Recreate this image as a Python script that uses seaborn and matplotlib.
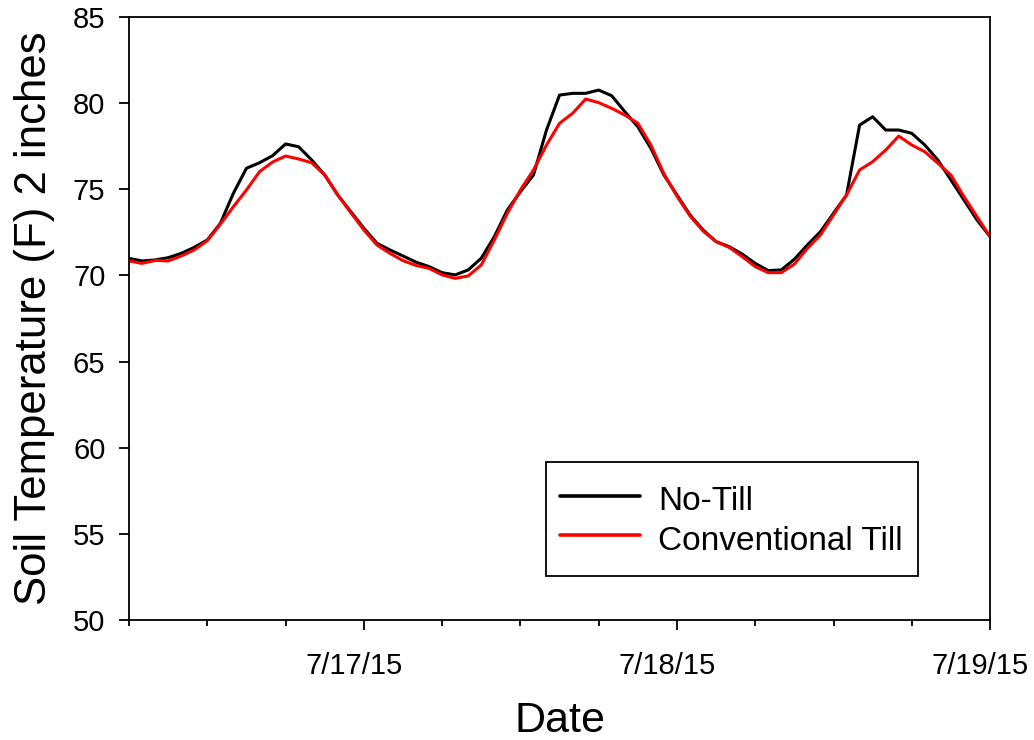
import matplotlib
matplotlib.use("Agg")
import matplotlib.pyplot as plt
import matplotlib.dates as mdates
import matplotlib.transforms as mtransforms
from matplotlib.patches import Rectangle
from matplotlib.ticker import FuncFormatter
import numpy as np
import pandas as pd
import seaborn as sns

# Hourly soil temperature at 2 inches, 7/16/15 06:00 through 7/19/15 00:00
start_time = "2015-07-16 06:00"
n_hours = 67

no_till = [70.99, 70.84, 70.90, 71.03, 71.28, 71.63, 72.06, 73.02, 74.77, 76.22,
           76.54, 76.95, 77.63, 77.47, 76.70, 75.83, 74.67, 73.70, 72.74, 71.87,
           71.48, 71.13, 70.77, 70.51, 70.16, 70.03, 70.32, 71.00, 72.25, 73.80,
           74.86, 75.83, 78.44, 80.47, 80.57, 80.57, 80.76, 80.43, 79.51, 78.63,
           77.38, 75.83, 74.67, 73.51, 72.64, 71.96, 71.67, 71.24, 70.70, 70.28,
           70.32, 70.94, 71.77, 72.54, 73.61, 74.67, 78.73, 79.21, 78.44, 78.44,
           78.25, 77.57, 76.70, 75.54, 74.38, 73.22, 72.25]

conventional_till = [70.84, 70.70, 70.87, 70.84, 71.13, 71.48, 72.02, 72.97, 73.99, 74.96,
                     76.02, 76.58, 76.93, 76.76, 76.54, 75.83, 74.67, 73.64, 72.64, 71.77,
                     71.28, 70.86, 70.58, 70.41, 70.03, 69.83, 69.97, 70.61, 72.06, 73.61,
                     74.96, 76.12, 77.57, 78.83, 79.41, 80.24, 80.03, 79.70, 79.31, 78.83,
                     77.57, 75.90, 74.60, 73.45, 72.58, 71.96, 71.63, 71.09, 70.51, 70.16,
                     70.16, 70.66, 71.57, 72.35, 73.51, 74.67, 76.12, 76.60, 77.28, 78.09,
                     77.57, 77.18, 76.51, 75.83, 74.57, 73.41, 72.25]

series_names = ["No-Till", "Conventional Till"]
series_colors = ["#000000", "#ff0000"]

y_ticks = [50, 55, 60, 65, 70, 75, 80, 85]

times = pd.date_range(start_time, periods=n_hours, freq="h")
df = pd.concat([
    pd.DataFrame({"Date": times, "Temp": no_till, "Treatment": series_names[0]}),
    pd.DataFrame({"Date": times, "Temp": conventional_till, "Treatment": series_names[1]}),
], ignore_index=True)

sns.set_style("ticks")
plt.rcParams["font.family"] = ["Liberation Sans", "DejaVu Sans"]
plt.rcParams.update({
    "text.color": "black",
    "axes.labelcolor": "black",
    "xtick.color": "black",
    "ytick.color": "black",
})

fig = plt.figure(figsize=(10.34, 7.40), dpi=100)
ax = fig.add_axes([0.1248, 0.1622, 0.8327, 0.8148])

sns.lineplot(data=df, x="Date", y="Temp", hue="Treatment",
             palette=dict(zip(series_names, series_colors)),
             linewidth=2.2, ax=ax, legend=True)

ax.set_xlim(pd.Timestamp("2015-07-16 06:00"), pd.Timestamp("2015-07-19 00:00"))
ax.set_ylim(50, 85)
ax.set_yticks(y_ticks)

ax.xaxis.set_major_locator(mdates.DayLocator())
ax.xaxis.set_minor_locator(mdates.HourLocator(byhour=[0, 6, 12, 18]))
ax.xaxis.set_major_formatter(FuncFormatter(
    lambda v, pos: (lambda d: f"{d.month}/{d.day}/{d:%y}")(mdates.num2date(v))))

for side in ["left", "right", "top", "bottom"]:
    ax.spines[side].set_visible(True)
    ax.spines[side].set_color("black")
    ax.spines[side].set_linewidth(1.3)

ax.tick_params(axis="y", which="major", direction="out", length=7, width=1.3,
               labelsize=21, pad=10, left=True, right=False)
ax.tick_params(axis="x", which="major", direction="out", length=7, width=1.3,
               labelsize=21, pad=16, bottom=True, top=False)
ax.tick_params(axis="x", which="minor", direction="out", length=4, width=1.3,
               bottom=True, top=False)

# date labels sit slightly left of their ticks
shift = mtransforms.ScaledTranslation(-0.10, 0, fig.dpi_scale_trans)
for lbl in ax.get_xticklabels():
    lbl.set_transform(lbl.get_transform() + shift)

ax.set_xlabel("Date", fontsize=31, labelpad=15)
ax.set_ylabel("Soil Temperature (F) 2 inches", fontsize=31.5, labelpad=13)

# legend box drawn as a plain square frame, entries centred inside it
box = Rectangle((0.4843, 0.0730), 0.4321, 0.1890, transform=ax.transAxes,
                facecolor="white", edgecolor="black", linewidth=1.3, zorder=4)
ax.add_patch(box)

leg = ax.legend(loc="center left", bbox_to_anchor=(0.5006, 0.1675), borderaxespad=0,
                fontsize=24, frameon=False,
                handlelength=2.4, handletextpad=0.55, borderpad=0.0,
                handleheight=1.25, labelspacing=0.11)
leg.set_zorder(5)
for line in leg.get_lines():
    line.set_linewidth(2.6)

fig.savefig("out.png", dpi=100, facecolor="white")
